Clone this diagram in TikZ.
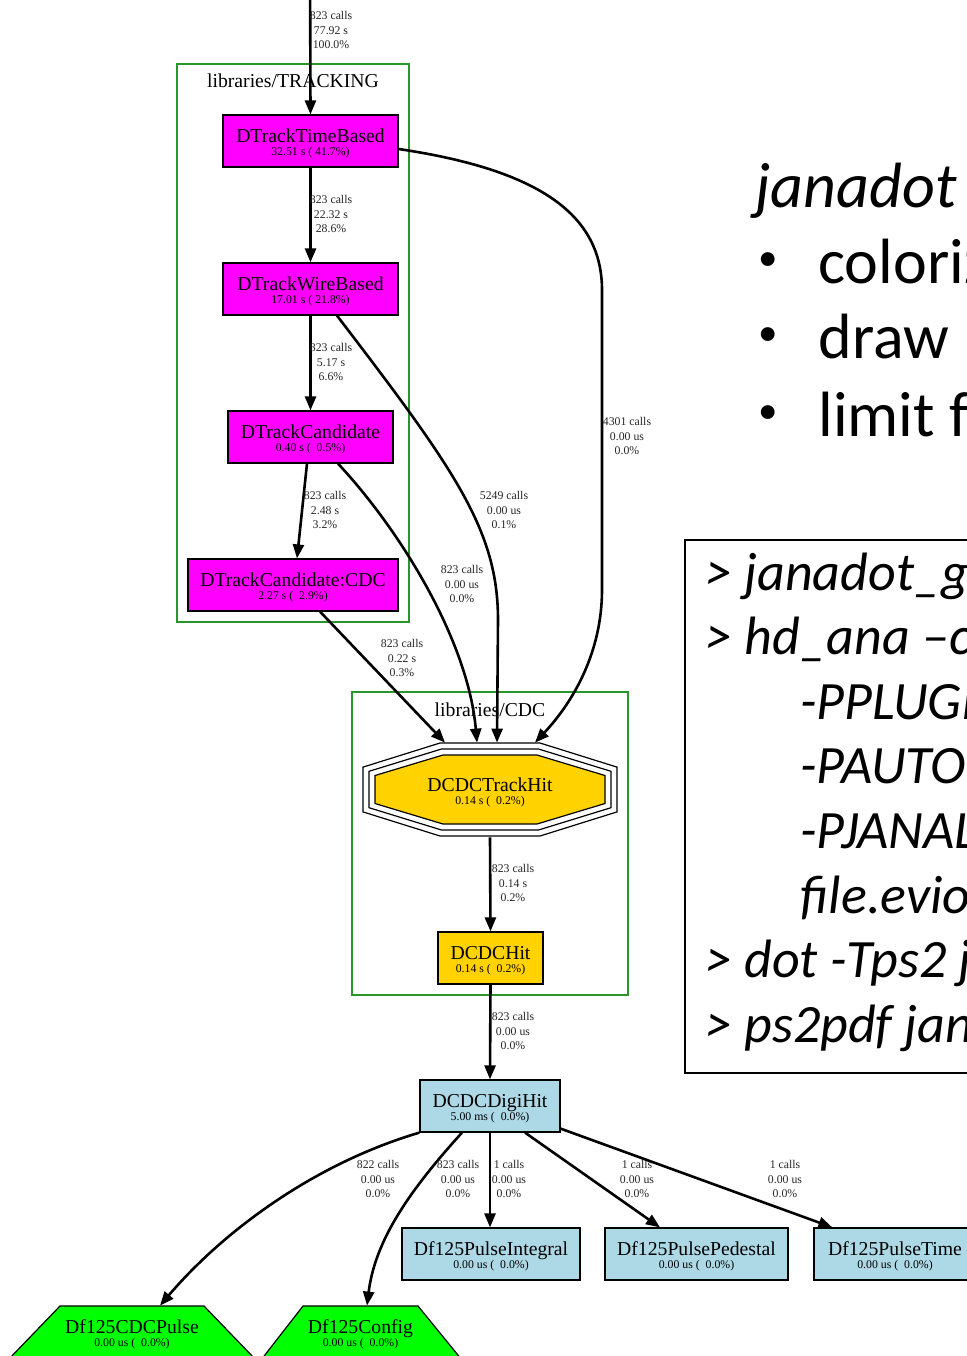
\documentclass[tikz,border=0pt]{standalone}
\usepackage{fontspec}
\setmainfont{Liberation Serif}
\newfontfamily\slidefont{Carlito}
\usetikzlibrary{arrows.meta,calc}

\definecolor{facmagenta}{RGB}{255,0,255}
\definecolor{facgold}{RGB}{255,210,0}
\definecolor{faclightblue}{RGB}{173,216,230}
\definecolor{facgreen}{RGB}{0,255,0}
\definecolor{clustergreen}{RGB}{40,150,40}

% factory name and its own time
\newcommand{\factory}[2]{\rule{0pt}{9pt}#1\\{\fontsize{5.9}{6.6}\selectfont #2}}
\newcommand{\calls}[3]{#1 calls\\#2\\#3}
\newcommand{\slidebullet}{{\fontsize{19.5}{19.5}\selectfont\textbullet}}

\tikzset{
    fac/.style={draw=black, line width=0.6pt, minimum height=26pt, inner sep=0pt, align=center, font=\fontsize{9.85}{6.6}\selectfont},
    tracking/.style={fac, fill=facmagenta},
    cdc/.style={fac, fill=facgold},
    digi/.style={fac, fill=faclightblue},
    hidden/.style={minimum height=26pt, inner sep=0pt, align=center, font=\fontsize{9.85}{6.6}\selectfont},
    callinfo/.style={font=\fontsize{5.9}{7.25}\selectfont, align=center, inner sep=0pt, text=black!85},
    call/.style={-{Triangle[length=7pt,width=5.5pt]}, line width=1.3pt},
    cluster/.style={draw=clustergreen, line width=0.6pt},
    clusterlabel/.style={font=\fontsize{9.85}{10}\selectfont, inner sep=0pt},
    slide/.style={font=\slidefont\fontsize{32}{32}\selectfont, inner sep=0pt, anchor=base west},
    cmdline/.style={font=\slidefont\itshape\fontsize{27}{28}\selectfont, inner sep=0pt, anchor=base west},
}

\begin{document}
\begin{tikzpicture}[x=0.5pt, y=-0.5pt]
    \useasboundingbox (0,0) rectangle (967,1356);
    \clip (0,0) rectangle (967,1356);

    % Draw the two library clusters
    \draw[cluster] (177,64) rectangle (409,622);
    \node[clusterlabel] (trklabel) at (293,81) {libraries/TRACKING};
    \draw[cluster] (352,692) rectangle (628,995);
    \node[clusterlabel] (cdclabel) at (490,710) {libraries/CDC};

    % Tracking factories
    \node[tracking, minimum width=87.5pt] (ttb) at (310.5,141) {\factory{DTrackTimeBased}{32.51 s ( 41.7\%)}};
    \node[tracking, minimum width=87.5pt] (twb) at (310.5,289) {\factory{DTrackWireBased}{17.01 s ( 21.8\%)}};
    \node[tracking, minimum width=82.5pt] (tc) at (310.5,437) {\factory{DTrackCandidate}{0.40 s ( \ 0.5\%)}};
    \node[tracking, minimum width=105pt] (tcc) at (293,585) {\factory{DTrackCandidate:CDC}{2.27 s ( \ 2.9\%)}};

    % Triple octagon for DCDCTrackHit
    \begin{scope}[shift={(490,789.5)}]
        \foreach \d in {12,6} {
            \draw[line width=0.6pt] ({-47-\d/4},{-34.5-\d}) -- ({47+\d/4},{-34.5-\d}) -- ({115+\d},{-14-0.7*\d}) -- ({115+\d},{14+0.7*\d})
                -- ({47+\d/4},{34.5+\d}) -- ({-47-\d/4},{34.5+\d}) -- ({-115-\d},{14+0.7*\d}) -- ({-115-\d},{-14-0.7*\d}) -- cycle;
        }
        \filldraw[fill=facgold, line width=0.6pt] (-47,-34.5) -- (47,-34.5) -- (115,-14) -- (115,14) -- (47,34.5) -- (-47,34.5) -- (-115,14) -- (-115,-14) -- cycle;
    \end{scope}
    \node[hidden, minimum width=127pt, minimum height=47pt] (tkh) at (490,790) {\factory{DCDCTrackHit}{0.14 s ( \ 0.2\%)}};

    % CDC hits and digihits
    \node[cdc, minimum width=52.5pt] (hit) at (490.5,958) {\factory{DCDCHit}{0.14 s ( \ 0.2\%)}};
    \node[digi, minimum width=70pt] (dhit) at (490,1106) {\factory{DCDCDigiHit}{5.00 ms ( \ 0.0\%)}};

    % fADC125 objects
    \node[digi, minimum width=89pt] (integ) at (491,1254) {\factory{Df125PulseIntegral}{0.00 us ( \ 0.0\%)}};
    \node[digi, minimum width=91.5pt] (ped) at (696.5,1254) {\factory{Df125PulsePedestal}{0.00 us ( \ 0.0\%)}};
    \node[digi, minimum width=81pt] (ptime) at (895,1254) {\factory{Df125PulseTime}{0.00 us ( \ 0.0\%)}};

    % Trapezia for the objects from the source
    \filldraw[fill=facgreen, line width=0.6pt] (60,1306) -- (204,1306) -- (256,1360) -- (8,1360) -- cycle;
    \node[hidden, minimum width=72pt] (cdcp) at (132,1332) {\factory{Df125CDCPulse}{0.00 us ( \ 0.0\%)}};
    \filldraw[fill=facgreen, line width=0.6pt] (303,1306) -- (418,1306) -- (462,1360) -- (261,1360) -- cycle;
    \node[hidden, minimum width=57.5pt] (config) at (360.5,1332) {\factory{Df125Config}{0.00 us ( \ 0.0\%)}};

    % Calls inside the tracking library
    \coordinate (caller) at (310,-55);
    \draw[call] (caller) -- (ttb.north);
    \node[callinfo] (l1) at (331,30) {\calls{823}{77.92 s}{100.0\%}};
    \draw[call] (ttb.south) -- (twb.north);
    \node[callinfo] (l2) at (331,214) {\calls{823}{22.32 s}{28.6\%}};
    \draw[call] (twb.south) -- (tc.north);
    \node[callinfo] (l3) at (331,362) {\calls{823}{5.17 s}{6.6\%}};
    \draw[call] ($(tc.south)+(-3.5,0)$) -- ($(tcc.north)+(4,0)$);
    \node[callinfo] (l4) at (325,510) {\calls{823}{2.48 s}{3.2\%}};

    % Calls into DCDCTrackHit
    \draw[call] ($(ttb.east)+(0,8)$) .. controls (540,170) and (602,215) .. (602,290) -- (602,590) .. controls (602,650) and (575,700) .. ($(tkh.north)+(45,0)$);
    \node[callinfo] (l5) at (627,436) {\calls{4301}{0.00 us}{0.0\%}};
    \draw[call] ($(twb.south)+(26.5,0)$) .. controls (455,470) and (498,530) .. (498,620) -- ($(tkh.north)+(7,0)$);
    \node[callinfo] (l6) at (504,510) {\calls{5249}{0.00 us}{0.1\%}};
    \draw[call] ($(tc.south)+(27.5,0)$) .. controls (400,530) and (468,640) .. ($(tkh.north)+(-13,0)$);
    \node[callinfo] (l7) at (462,584) {\calls{823}{0.00 us}{0.0\%}};
    \draw[call] ($(tcc.south)+(27,0)$) -- ($(tkh.north)+(-45,0)$);
    \node[callinfo] (l8) at (402,658) {\calls{823}{0.22 s}{0.3\%}};

    % Calls down to the digihits
    \draw[call] (tkh.south) -- (hit.north);
    \node[callinfo] (l9) at (513,883) {\calls{823}{0.14 s}{0.2\%}};
    \draw[call] (hit.south) -- (dhit.north);
    \node[callinfo] (l10) at (513,1031) {\calls{823}{0.00 us}{0.0\%}};

    % Calls from DCDCDigiHit
    \draw[call] (dhit.south west) .. controls (310,1165) and (220,1235) .. ($(cdcp.north)+(28,0)$);
    \node[callinfo] (l11) at (378,1179) {\calls{822}{0.00 us}{0.0\%}};
    \draw[call] ($(dhit.south)+(-28,0)$) .. controls (410,1190) and (375,1240) .. ($(config.north)+(6.5,0)$);
    \node[callinfo] (l12) at (458,1179) {\calls{823}{0.00 us}{0.0\%}};
    \draw[call] (dhit.south) -- (dhit.south |- integ.north);
    \node[callinfo] (l13) at (509,1179) {\calls{1}{0.00 us}{0.0\%}};
    \draw[call] ($(dhit.south)+(35,0)$) -- ($(ped.north)+(-36.5,0)$);
    \node[callinfo] (l14) at (637,1179) {\calls{1}{0.00 us}{0.0\%}};
    \draw[call] ($(dhit.south east)+(0,-4)$) -- ($(ptime.north west)+(19,0)$);
    \node[callinfo] (l15) at (785,1179) {\calls{1}{0.00 us}{0.0\%}};

    % Slide text on the right
    \node[slide, font=\slidefont\itshape\fontsize{32}{32}\selectfont] (title) at (755,207) {janadot};
    \node[slide] (b1) at (758,270) {\slidebullet};
    \node[slide] (t1) at (818,283) {coloriz};
    \node[slide] (b2) at (758,345) {\slidebullet};
    \node[slide] (t2) at (818,358) {draw};
    \node[slide] (b3) at (758,423) {\slidebullet};
    \node[slide] (t3) at (818,436) {limit f};

    % Command box
    \draw[line width=0.7pt] (685,540) rectangle (1000,1073);
    \node[cmdline] (c1) at (705,590) {> janadot\_g};
    \node[cmdline] (c2) at (705,654.6) {> hd\_ana –c};
    \node[cmdline] (c3) at (800,719.2) {-PPLUGI};
    \node[cmdline] (c4) at (800,783.8) {-PAUTO};
    \node[cmdline] (c5) at (800,848.4) {-PJANAL};
    \node[cmdline] (c6) at (800,913) {file.evio};
    \node[cmdline] (c7) at (705,977.6) {> dot -Tps2 j};
    \node[cmdline] (c8) at (705,1042) {> ps2pdf jan};
\end{tikzpicture}
\end{document}
